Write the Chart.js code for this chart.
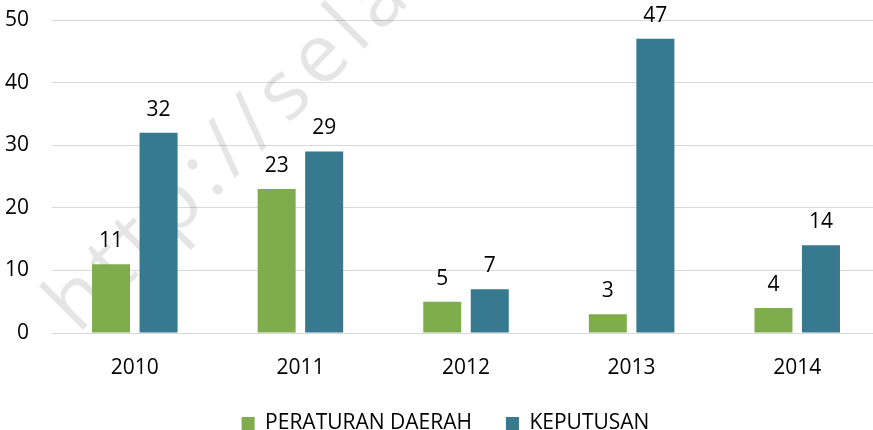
<!DOCTYPE html>
<html>
<head>
<meta charset="utf-8">
<script src="https://cdn.jsdelivr.net/npm/chart.js@4.4.1/dist/chart.umd.min.js"></script>
<style>
  html, body { margin: 0; padding: 0; background: #fff; overflow: hidden; }
  #wrap { position: relative; width: 891px; height: 430px; }
</style>
</head>
<body>
<div id="wrap"><canvas id="chart"></canvas></div>
<script>
    const years = ['2010', '2011', '2012', '2013', '2014'];
    const perda = [11, 23, 5, 3, 4];
    const keputusan = [32, 29, 7, 47, 14];
    const yTicks = [0, 10, 20, 30, 40, 50];
    const seriesNames = ['PERATURAN DAERAH', 'KEPUTUSAN'];
    const colors = ['#7fad4e', '#37798f'];
    const fontFamily = '"Open Sans", "Noto Sans", sans-serif';

    // faint diagonal watermark behind the bars
    const watermark = {
      id: 'watermark',
      beforeDatasetsDraw(chart) {
        const c = chart.ctx;
        c.save();
        c.translate(78, 335);
        c.rotate(-Math.PI / 4);
        c.font = '82px ' + fontFamily;
        c.fillStyle = 'rgba(0,0,0,0.1)';
        c.textBaseline = 'alphabetic';
        c.textAlign = 'left';
        if ('letterSpacing' in c) c.letterSpacing = '8px';
        c.fillText('http://selasar.com', 0, 0);
        c.restore();
      }
    };

    // value labels over each bar
    const valueLabels = {
      id: 'valueLabels',
      afterDatasetsDraw(chart) {
        const c = chart.ctx;
        c.save();
        c.font = '21px ' + fontFamily;
        c.fillStyle = '#000';
        c.textAlign = 'center';
        c.textBaseline = 'alphabetic';
        chart.data.datasets.forEach(function(ds, i) {
          chart.getDatasetMeta(i).data.forEach(function(bar, j) {
            c.fillText(String(ds.data[j]), bar.x, bar.y - 17);
          });
        });
        c.restore();
      }
    };

    const ctx = document.getElementById('chart').getContext('2d');
    const data = {
      labels: years,
      datasets: [{
        label: seriesNames[0],
        data: perda,
        backgroundColor: colors[0],
        borderWidth: 0
      }, {
        label: seriesNames[1],
        data: keputusan,
        backgroundColor: colors[1],
        borderWidth: 0
      }]
    };
    const options = {
      responsive: true,
      maintainAspectRatio: false,
      animation: false,
      datasets: {
        bar: {
          categoryPercentage: 0.574,
          barPercentage: 0.8
        }
      },
      layout: {
        padding: { top: 20, right: 0, bottom: -14, left: 0 }
      },
      plugins: {
        tooltip: { enabled: false },
        legend: {
          position: 'bottom',
          labels: {
            boxWidth: 13,
            boxHeight: 13,
            padding: 34,
            color: '#000',
            font: { family: fontFamily, size: 21 }
          }
        }
      },
      scales: {
        x: {
          grid: { display: false, drawTicks: false },
          border: { display: false },
          ticks: {
            padding: 22,
            color: '#000',
            font: { family: fontFamily, size: 21 }
          },
          afterFit(scale) { scale.height = 46; }
        },
        y: {
          min: 0,
          max: 50,
          afterBuildTicks(scale) {
            scale.ticks = yTicks.map(function(v) { return { value: v }; });
          },
          grid: { color: '#d9d9d9', lineWidth: 1, drawTicks: false },
          border: { display: false },
          ticks: {
            padding: 23,
            color: '#000',
            font: { family: fontFamily, size: 21 }
          },
          afterFit(scale) {
            scale.width = 52;
            scale.paddingTop = 0;
            scale.paddingBottom = 0;
          }
        },
        // empty spacer on the right so the plot ends where the reference does
        spacer: {
          position: 'right',
          display: true,
          grid: { display: false },
          border: { display: false },
          ticks: { display: false },
          afterFit(scale) {
            scale.width = 11;
            scale.paddingTop = 0;
            scale.paddingBottom = 0;
          }
        }
      }
    };
    const chart = new Chart(ctx, {
      type: 'bar',
      data: data,
      options: options,
      plugins: [watermark, valueLabels]
    });
</script>
</body>
</html>
